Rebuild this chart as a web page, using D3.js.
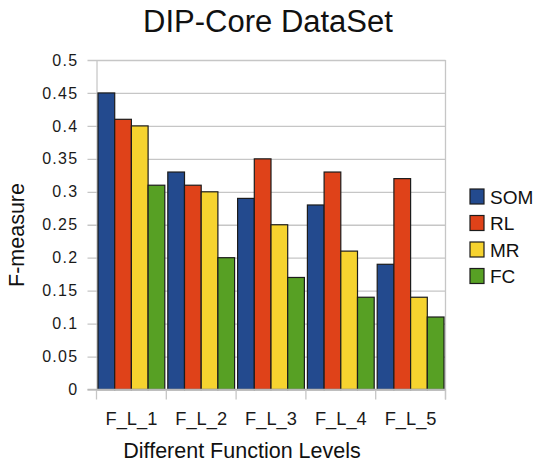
<!DOCTYPE html>
<html>
<head>
<meta charset="utf-8">
<script src="https://cdn.jsdelivr.net/npm/d3@7"></script>
<style>
  html, body { margin: 0; padding: 0; background: #fff; }
  svg { display: block; font-family: "Liberation Sans", Arial, sans-serif; }
</style>
</head>
<body>
<svg id="chart" width="536" height="463"></svg>
<script>
// F-measure per function level for each method
const categories = ["F_L_1", "F_L_2", "F_L_3", "F_L_4", "F_L_5"];
const seriesNames = ["SOM", "RL", "MR", "FC"];
const som = [0.45, 0.33, 0.29, 0.28, 0.19];
const rl  = [0.41, 0.31, 0.35, 0.33, 0.32];
const mr  = [0.40, 0.30, 0.25, 0.21, 0.14];
const fc  = [0.31, 0.20, 0.17, 0.14, 0.11];
const yTicks = [0, 0.05, 0.1, 0.15, 0.2, 0.25, 0.3, 0.35, 0.4, 0.45, 0.5];
const colors = ["#234a8e", "#df4219", "#f6d32f", "#57a024"];

const seriesValues = [som, rl, mr, fc];

const svg = d3.select("#chart");
const plot = { left: 96.5, right: 445.5, top: 60, bottom: 389.5 };

const x = d3.scaleBand().domain(categories).range([plot.left, plot.right]).paddingInner(0).paddingOuter(0);
const xs = d3.scaleBand().domain(seriesNames).range([0, x.bandwidth()]).paddingInner(0).paddingOuter(0.09);
const y = d3.scaleLinear().domain([0, 0.5]).range([plot.bottom, plot.top]);

// horizontal gridlines with short ticks to the left
const fmt = v => (v === 0 ? "0" : String(+v.toFixed(2)));
const yAxis = d3.axisLeft(y).tickValues(yTicks).tickFormat(fmt)
  .tickSize(-(plot.right - plot.left)).tickSizeOuter(0).tickPadding(8);
const gy = svg.append("g").attr("transform", `translate(${plot.left},0)`).call(yAxis);
gy.select(".domain").attr("stroke", "#b8b8b8");
gy.selectAll(".tick line").attr("stroke", "#c6c6c6").attr("stroke-width", 1.3)
  .attr("x1", -9);
gy.selectAll(".tick text").attr("font-size", 16).attr("letter-spacing", 1.3)
  .attr("fill", "#1a1a1a").attr("x", -18);

// right border
svg.append("line").attr("x1", plot.right).attr("x2", plot.right)
  .attr("y1", plot.top).attr("y2", plot.bottom + 10)
  .attr("stroke", "#c6c6c6").attr("stroke-width", 1.3);

// category axis with ticks between groups
const gx = svg.append("g").attr("transform", `translate(0,${plot.bottom})`);
const bounds = categories.map(c => x(c)).concat([plot.right]);
gx.selectAll("line.sep").data(bounds).join("line")
  .attr("class", "sep")
  .attr("x1", d => d).attr("x2", d => d).attr("y1", 0).attr("y2", 10)
  .attr("stroke", "#c6c6c6").attr("stroke-width", 1.3);
gx.selectAll("text").data(categories).join("text")
  .attr("x", d => x(d) + x.bandwidth() / 2).attr("y", 35.5)
  .attr("text-anchor", "middle").attr("font-size", 18.3).attr("fill", "#1a1a1a")
  .text(d => d);

// bars
const groups = svg.append("g").selectAll("g").data(categories).join("g")
  .attr("transform", d => `translate(${x(d)},0)`);
groups.selectAll("rect")
  .data((c, i) => seriesNames.map((s, k) => ({ s, k, v: seriesValues[k][i] })))
  .join("rect")
  .attr("x", d => xs(d.s))
  .attr("width", xs.bandwidth())
  .attr("y", d => y(d.v))
  .attr("height", d => y(0) - y(d.v))
  .attr("fill", d => colors[d.k])
  .attr("stroke", "#1c1c1c").attr("stroke-width", 1.2);

// bottom baseline
svg.append("line").attr("x1", plot.left - 9).attr("x2", plot.right)
  .attr("y1", plot.bottom).attr("y2", plot.bottom)
  .attr("stroke", "#b8b8b8").attr("stroke-width", 1.3);

// title and axis titles
svg.append("text").attr("x", 268).attr("y", 32).attr("text-anchor", "middle")
  .attr("font-size", 31).attr("fill", "#111").text("DIP-Core DataSet");
svg.append("text").attr("x", 242).attr("y", 458).attr("text-anchor", "middle")
  .attr("font-size", 21.5).attr("fill", "#111").text("Different Function Levels");
svg.append("text").attr("transform", "translate(24,235) rotate(-90)")
  .attr("text-anchor", "middle").attr("font-size", 21.5).attr("fill", "#111").text("F-measure");

// legend
const legend = svg.append("g").selectAll("g").data(seriesNames).join("g")
  .attr("transform", (d, i) => `translate(470,${189 + i * 26.5})`);
legend.append("rect").attr("width", 14).attr("height", 15)
  .attr("fill", (d, i) => colors[i]).attr("stroke", "#1c1c1c").attr("stroke-width", 1.2);
legend.append("text").attr("x", 20).attr("y", 14.5).attr("font-size", 19)
  .attr("fill", "#111").text(d => d);
</script>
</body>
</html>
